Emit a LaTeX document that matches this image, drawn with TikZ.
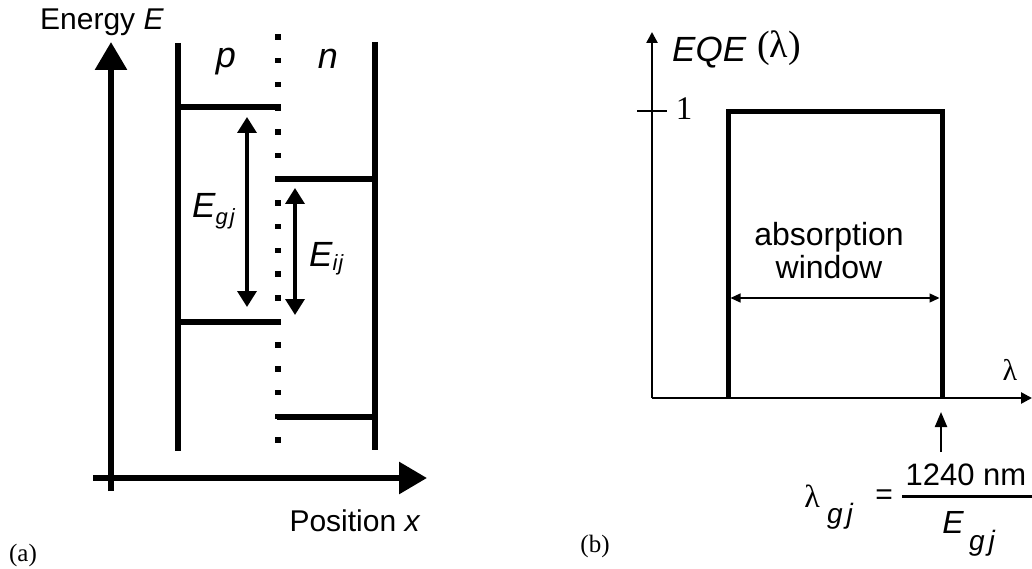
\documentclass[tikz,border=0pt]{standalone}
\usepackage{fontspec}
\setmainfont{Liberation Sans}
\newfontfamily\timesfont{Liberation Serif}
\usetikzlibrary{arrows.meta}

\tikzset{
  level/.style={line width=6pt},
  bigaxis/.style={line width=6pt,-{Triangle[length=28pt,width=31pt]}},
  gaparrow/.style={line width=3.5pt,{Triangle[length=16pt,width=19pt]}-{Triangle[length=16pt,width=19pt]}},
  thinaxis/.style={line width=2.5pt,-{Triangle[length=11pt,width=11pt]}},
  window/.style={line width=1.3pt,{Triangle[length=10pt,width=9pt]}-{Triangle[length=10pt,width=9pt]}},
}

\begin{document}
\begin{tikzpicture}[x=1pt,y=-1pt]
    \useasboundingbox (0,0) rectangle (1032,569);
    % (a) band diagram
    \coordinate (Eo) at (111,491);  \coordinate (Etop) at (111,42);
    \coordinate (Xo) at (93,478);   \coordinate (Xend) at (427,478);
    \draw[bigaxis] (Eo) -- (Etop);
    \draw[bigaxis] (Xo) -- (Xend);
    \node[font=\fontsize{30}{36}\selectfont,anchor=base] (elab) at (102,30) {Energy \textit{E}};
    \node[font=\fontsize{30}{36}\selectfont,anchor=base] (xlab) at (355,531) {Position \textit{x}};
    % Layers
    \draw[level] (178,43) -- (178,451);
    \draw[level] (375,42) -- (375,450);
    \node[font=\fontsize{36}{42}\selectfont\itshape,anchor=base] (p) at (226,68) {p};
    \node[font=\fontsize{36}{42}\selectfont\itshape,anchor=base] (n) at (328,69) {n};
    % Junction
    \foreach \k in {0,...,17}
        \fill (275.3,{34.3+\k*23.7}) rectangle +(5.5,5.5);
    % Levels
    \draw[level] (178,107) -- (281,107);
    \draw[level] (178,322) -- (281,322);
    \draw[level] (275,179) -- (375,179);
    \draw[level] (277,417) -- (375,417);
    % Gaps
    \coordinate (gt) at (247,117); \coordinate (gb) at (247,307);
    \coordinate (it) at (295,188); \coordinate (ib) at (295,315);
    \draw[gaparrow] (gt) -- (gb);
    \draw[gaparrow] (it) -- (ib);
    \node[font=\fontsize{35}{42}\selectfont\itshape,anchor=base west,inner sep=0pt] (egj) at (192,218)
        {E\raisebox{-7pt}{\fontsize{22}{26}\selectfont g\kern2pt j}};
    \node[font=\fontsize{35}{42}\selectfont\itshape,anchor=base west,inner sep=0pt] (eij) at (309,266)
        {E\raisebox{-4pt}{\fontsize{22}{26}\selectfont i\kern1pt j}};
    \node[font=\fontsize{25}{30}\selectfont\timesfont,anchor=base] (a) at (23,561) {(a)};

    % (b) quantum efficiency
    \coordinate (Qo) at (652,398); \coordinate (Qtop) at (652,32);
    \coordinate (Qend) at (1032,398);
    \draw[thinaxis] (Qo) -- (Qtop);
    \draw[thinaxis] (Qo) -- (Qend);
    \draw[line width=2pt] (637,111) -- (667,111);
    \node[font=\fontsize{33}{40}\selectfont\timesfont,anchor=base] (one) at (684,120) {1};
    \node[font=\fontsize{35}{42}\selectfont\itshape,anchor=base west,inner sep=0pt] (eqe) at (672,62) {EQE};
    \node[font=\fontsize{38}{44}\selectfont\timesfont,anchor=base west,inner sep=0pt] (eqearg) at (757,58) {(λ)};
    \node[font=\fontsize{30}{36}\selectfont\timesfont,anchor=base] (lam) at (1010,380) {λ};
    % Window
    \draw[line width=5pt,line join=miter] (728,398) -- (728,112) -- (942,112) -- (942,398);
    \node[font=\fontsize{32}{38}\selectfont,anchor=base] (abs) at (829,245) {absorption};
    \node[font=\fontsize{32}{38}\selectfont,anchor=base] (win) at (829,278) {window};
    \coordinate (wl) at (730.5,298); \coordinate (wr) at (939.5,298);
    \draw[window] (wl) -- (wr);
    \coordinate (cut) at (941,412); \coordinate (cutb) at (941,452);
    \draw[line width=2.2pt,-{Triangle[length=15pt,width=12pt]}] (cutb) -- (cut);
    % Formula
    \node[font=\fontsize{32}{38}\selectfont\timesfont,anchor=base] (lgj) at (812,507) {λ};
    \node[font=\fontsize{28}{32}\selectfont\itshape,anchor=base] (lsub) at (840,523) {g\kern4pt j};
    \node[font=\fontsize{30}{36}\selectfont] (eq) at (884,497) {=};
    \node[font=\fontsize{31}{36}\selectfont,anchor=base] (num) at (966,485) {1240 nm};
    \draw[line width=3pt] (902,496) -- (1032,496);
    \node[font=\fontsize{32}{38}\selectfont\itshape,anchor=base] (den) at (953,533) {E};
    \node[font=\fontsize{28}{32}\selectfont\itshape,anchor=base] (dsub) at (982,550) {g\kern4pt j};
    \node[font=\fontsize{25}{30}\selectfont\timesfont,anchor=base] (b) at (595,552) {(b)};
\end{tikzpicture}
\end{document}
